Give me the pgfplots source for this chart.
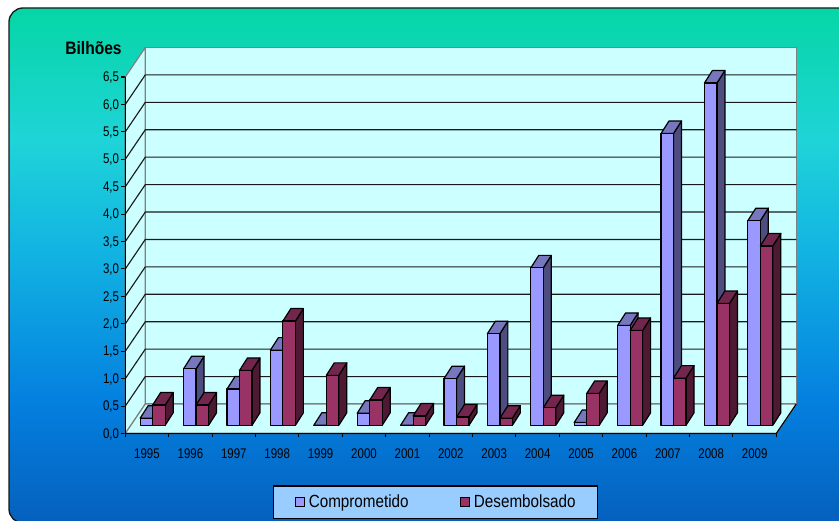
\documentclass[border=0pt]{standalone}
\usepackage{fontspec}
\usepackage{pgfplots}
\pgfplotsset{compat=1.18}
\newfontfamily\tickfont[FakeStretch=0.82]{Liberation Sans}
\newfontfamily\labelfont[FakeStretch=0.865]{Liberation Sans}

\definecolor{wallcol}{HTML}{CCFFFF}
\definecolor{framecol}{HTML}{808080}
\definecolor{gridcol}{HTML}{1A1A1A}
\definecolor{compfront}{HTML}{9999FF}
\definecolor{comptop}{HTML}{7777C0}
\definecolor{compside}{HTML}{4D4D80}
\definecolor{desfront}{HTML}{993366}
\definecolor{destop}{HTML}{73264D}
\definecolor{desside}{HTML}{4D1933}
\definecolor{legendfill}{HTML}{99CCFF}
\definecolor{panelA}{HTML}{0560BC}
\definecolor{panelB}{HTML}{0480E0}
\definecolor{panelC}{HTML}{12B4E2}
\definecolor{panelD}{HTML}{1FD4D8}
\definecolor{panelE}{HTML}{05D6A5}

\pgfdeclareverticalshading{panelshade}{100bp}{
  color(0bp)=(panelA);
  color(25bp)=(panelA);
  color(36.9bp)=(panelB);
  color(51.5bp)=(panelC);
  color(62.2bp)=(panelD);
  color(75bp)=(panelE);
  color(100bp)=(panelE)
}

% depth of the chart box and of the columns, in axis units
\def\wallX{0.4608}
\def\wallY{0.5378}
\def\baseX{0.131}
\def\baseY{0.1495}
\def\depthX{0.184}
\def\depthY{0.228}
\def\barW{0.288}

% one filled polygon on the axis
\newcommand{\facet}[3]{%
  \edef\facetcmd{\noexpand\addplot[forget plot,fill=#1,draw=#2,line width=0.9pt,line join=round] coordinates {#3} -- cycle;}%
  \facetcmd}

% one column: left edge, value, then front, top and side colours
\newcommand{\column}[5]{%
  \pgfmathsetmacro\xa{#1+\baseX}%
  \pgfmathsetmacro\xb{\xa+\barW}%
  \pgfmathsetmacro\xc{\xb+\depthX}%
  \pgfmathsetmacro\xd{\xa+\depthX}%
  \pgfmathsetmacro\ya{\baseY}%
  \pgfmathsetmacro\yb{\baseY+#2}%
  \pgfmathsetmacro\yc{\yb+\depthY}%
  \pgfmathsetmacro\ye{\ya+\depthY}%
  \facet{#5}{black}{(\xb,\ya)(\xc,\ye)(\xc,\yc)(\xb,\yb)}%
  \facet{#4}{black}{(\xa,\yb)(\xb,\yb)(\xc,\yc)(\xd,\yc)}%
  \facet{#3}{black}{(\xa,\ya)(\xb,\ya)(\xb,\yb)(\xa,\yb)}%
}

% both columns of a year: position, Comprometido, Desembolsado
\newcommand{\yearbars}[3]{%
  \pgfmathsetmacro\leftA{#1-\barW}%
  \column{\leftA}{#2}{compfront}{comptop}{compside}%
  \column{#1}{#3}{desfront}{destop}{desside}%
}

% one gridline across the side wall and the back wall
\newcommand{\gridline}[1]{%
  \pgfmathsetmacro\yb{#1+\wallY}%
  \pgfmathsetmacro\xb{-0.5+\wallX}%
  \pgfmathsetmacro\xc{14.5+\wallX}%
  \edef\gridcmd{\noexpand\addplot[forget plot,gridcol,line width=0.85pt] coordinates {(-0.5,#1)(\xb,\yb)(\xc,\yb)};}%
  \gridcmd}

\begin{document}
\begin{tikzpicture}
\useasboundingbox (0,0) rectangle (629.25pt,390.75pt);
\fill[white] (0,0) rectangle (629.25pt,390.75pt);
% rounded background panel, running off the right edge
\begin{scope}
  \clip (0,0) rectangle (629.25pt,390.75pt);
  \begin{scope}[x=0.75pt,y=-0.75pt,yshift=390.75pt]
    \shade[shading=panelshade,rounded corners=10.5pt] (9,8) rectangle (852,523);
    \draw[black!90,line width=1pt,rounded corners=10.5pt] (9,8) rectangle (852,523);
  \end{scope}
\end{scope}

\begin{axis}[
  at={(93.975pt,65.625pt)},anchor=south west,
  scale only axis,width=503.25pt,height=289.5pt,
  xmin=-0.5,xmax=14.96,ymin=0,ymax=7.0374,
  clip=false,
  axis line style={draw=none},
  xtick pos=bottom,ytick pos=left,
  tick align=outside,
  major tick length=3pt,
  tick style={black,line width=0.8pt},
  xtick={-0.5,0.5,...,14.5},
  x tick label as interval,
  xticklabels={1995,1996,1997,1998,1999,2000,2001,2002,2003,2004,2005,2006,2007,2008,2009},
  ytick={0,0.5,1,1.5,2,2.5,3,3.5,4,4.5,5,5.5,6,6.5},
  yticklabels={{0,0},{0,5},{1,0},{1,5},{2,0},{2,5},{3,0},{3,5},{4,0},{4,5},{5,0},{5,5},{6,0},{6,5}},
  ticklabel style={font=\tickfont\fontsize{10.5}{12}\selectfont,black},
  y tick label style={inner xsep=1.5pt,yshift=-0.5pt},
  x tick label style={yshift=-5pt},
  ylabel={Bilhões},
  ylabel style={font=\labelfont\bfseries\fontsize{13.5}{15}\selectfont,rotate=-90,anchor=center,
    at={(axis description cs:-0.0474,0.9987)}},
  legend columns=2,
  legend cell align=left,
  legend style={at={(0.4623,-0.1775)},anchor=center,fill=legendfill,draw=black,line width=0.8pt,
    font=\labelfont\fontsize{13.2}{15}\selectfont,inner xsep=14.6pt,inner ysep=4.5pt,
    /tikz/every even column/.append style={column sep=35pt}},
]
% walls and floor
\pgfmathsetmacro\bx{-0.5+\wallX}
\pgfmathsetmacro\cx{14.5+\wallX}
\pgfmathsetmacro\by{6.5+\wallY}
\facet{wallcol}{framecol}{(-0.5,0)(-0.5,6.5)(\bx,\by)(\bx,\wallY)}
\facet{wallcol}{framecol}{(\bx,\wallY)(\bx,\by)(\cx,\by)(\cx,\wallY)}
\facet{wallcol}{framecol}{(-0.5,0)(14.5,0)(\cx,\wallY)(\bx,\wallY)}
\gridline{0.5}\gridline{1.0}\gridline{1.5}\gridline{2.0}\gridline{2.5}\gridline{3.0}
\gridline{3.5}\gridline{4.0}\gridline{4.5}\gridline{5.0}\gridline{5.5}\gridline{6.0}
\addplot[forget plot,black,line width=0.8pt] coordinates {(-0.5,6.5)(-0.5,0)(14.5,0)(14.96,0.5378)};

% columns, Comprometido and Desembolsado, in billions
\yearbars{0}{0.13}{0.37}
\yearbars{1}{1.03}{0.37}
\yearbars{2}{0.66}{1.00}
\yearbars{3}{1.37}{1.90}
\yearbars{4}{0.00}{0.91}
\yearbars{5}{0.22}{0.46}
\yearbars{6}{0.00}{0.17}
\yearbars{7}{0.85}{0.15}
\yearbars{8}{1.67}{0.13}
\yearbars{9}{2.87}{0.32}
\yearbars{10}{0.05}{0.58}
\yearbars{11}{1.82}{1.73}
\yearbars{12}{5.32}{0.86}
\yearbars{13}{6.24}{2.22}
\yearbars{14}{3.73}{3.27}

\addlegendimage{legend image code/.code={\draw[fill=compfront,draw=black,line width=0.8pt] (1.5pt,-3.2pt) rectangle (8.3pt,3.6pt); \path (0pt,0pt) (9.2pt,0pt);}}
\addlegendentry{Comprometido}
\addlegendimage{legend image code/.code={\draw[fill=desfront,draw=black,line width=0.8pt] (1.5pt,-3.2pt) rectangle (8.3pt,3.6pt); \path (0pt,0pt) (9.2pt,0pt);}}
\addlegendentry{Desembolsado}
\end{axis}
\end{tikzpicture}
\end{document}
